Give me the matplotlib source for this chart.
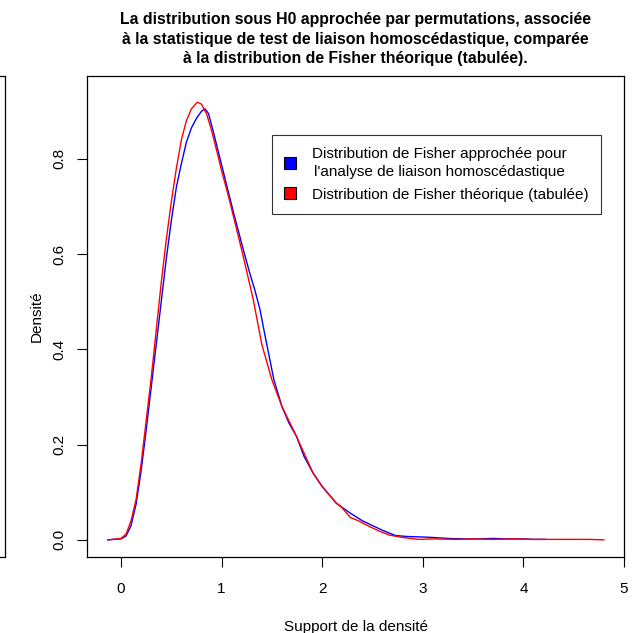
import matplotlib
matplotlib.use("Agg")
import matplotlib.pyplot as plt
from matplotlib.patches import Patch
from matplotlib.lines import Line2D

plt.rcParams['font.family'] = ['Liberation Sans', 'DejaVu Sans']

# densite estimee par permutations (bleu)
x_perm = [-0.13, 0.0, 0.05, 0.10, 0.15, 0.20, 0.25, 0.30, 0.35, 0.40, 0.45, 0.50,
          0.55, 0.60, 0.65, 0.70, 0.75, 0.80, 0.835, 0.87, 0.92, 0.985, 1.05, 1.12,
          1.216, 1.28, 1.33, 1.38, 1.44, 1.52, 1.60, 1.67, 1.745, 1.82, 1.91,
          2.00, 2.14, 2.28, 2.40, 2.50, 2.60, 2.73, 2.85, 3.00, 3.10, 3.25, 3.40,
          3.55, 3.70, 3.85, 4.00, 4.10, 4.22]
y_perm = [0.0, 0.002, 0.008, 0.03, 0.075, 0.145, 0.23, 0.32, 0.41, 0.50, 0.59, 0.67,
          0.74, 0.79, 0.835, 0.865, 0.885, 0.90, 0.905, 0.895, 0.855, 0.80, 0.745, 0.686,
          0.609, 0.56, 0.525, 0.485, 0.42, 0.336, 0.28, 0.245, 0.217, 0.175, 0.14,
          0.112, 0.077, 0.056, 0.040, 0.030, 0.020, 0.009, 0.007, 0.006, 0.005, 0.003, 0.002,
          0.002, 0.003, 0.002, 0.002, 0.001, 0.001]

# densite de Fisher theorique (rouge)
x_fish = [-0.13, 0.0, 0.05, 0.10, 0.15, 0.20, 0.25, 0.30, 0.35, 0.40, 0.45, 0.50,
          0.55, 0.60, 0.65, 0.70, 0.758, 0.80, 0.85, 0.90, 0.96, 1.00, 1.07, 1.14,
          1.21, 1.315, 1.40, 1.50, 1.60, 1.745, 1.91, 2.00, 2.14, 2.19, 2.28, 2.36,
          2.47, 2.57, 2.67, 2.80, 2.96, 3.10, 3.34, 3.50, 3.70, 3.90, 4.10, 4.30,
          4.50, 4.65, 4.80]
y_fish = [0.0, 0.003, 0.012, 0.04, 0.085, 0.16, 0.25, 0.34, 0.44, 0.54, 0.63, 0.71,
          0.78, 0.84, 0.88, 0.905, 0.919, 0.915, 0.895, 0.86, 0.81, 0.775, 0.72, 0.66,
          0.60, 0.504, 0.41, 0.336, 0.28, 0.217, 0.14, 0.112, 0.077, 0.069, 0.047, 0.040,
          0.028, 0.018, 0.010, 0.005, 0.001, 0.002, 0.001, 0.002, 0.001, 0.002, 0.001, 0.001,
          0.001, 0.001, 0.0]

legend_labels = ["Distribution de Fisher approchée pour\nl'analyse de liaison homoscédastique",
                 "Distribution de Fisher théorique (tabulée)"]
title = ("La distribution sous H0 approchée par permutations, associée\n"
         "à la statistique de test de liaison homoscédastique, comparée\n"
         "à la distribution de Fisher théorique (tabulée).")

fig = plt.figure(figsize=(6.33, 6.33), dpi=100)
ax = fig.add_axes([87 / 633, 76 / 633, 537 / 633, 481 / 633])

ax.plot(x_perm, y_perm, color='blue', lw=1)
ax.plot(x_fish, y_fish, color='red', lw=1)

ax.set_xlim(-0.338, 5.0)
ax.set_ylim(-0.036, 0.974)
ax.set_xticks([0, 1, 2, 3, 4, 5])
ax.set_yticks([0.0, 0.2, 0.4, 0.6, 0.8])
ax.set_yticklabels(['0.0', '0.2', '0.4', '0.6', '0.8'], rotation=90, va='center')
ax.tick_params(length=7, width=0.8, labelsize=11)
ax.tick_params(axis='x', pad=11)
ax.tick_params(axis='y', pad=8)
for s in ax.spines.values():
    s.set_linewidth(0.9)

ax.set_xlabel("Support de la densité", fontsize=11, labelpad=17)
ax.set_ylabel("Densité", fontsize=11, labelpad=6)
ax.set_title(title, fontsize=11.4, fontweight='bold', pad=9, linespacing=1.39)

handles = [Patch(facecolor='blue', edgecolor='black', lw=0.8),
           Patch(facecolor='red', edgecolor='black', lw=0.8)]
leg = ax.legend(handles, legend_labels, loc='upper left',
                bbox_to_anchor=((272 - 87) / 537, (557 - 135) / 481),
                borderaxespad=0, fontsize=11, frameon=True, fancybox=False,
                edgecolor='black', handlelength=0.8, handleheight=0.8,
                handletextpad=1.0, borderpad=0.8, labelspacing=0.55)
leg.get_frame().set_linewidth(0.8)
for t in leg.get_texts():
    t.set_multialignment('center')
    t.set_linespacing(1.35)

# trait residuel a gauche de la figure
fx = 5 / 633
top, bot = 1 - 76 / 633, 1 - 557 / 633
fig.lines.append(Line2D([0, fx, fx, 0], [top, top, bot, bot], transform=fig.transFigure,
                        color='black', lw=0.9))

fig.savefig("out.png", dpi=100)
